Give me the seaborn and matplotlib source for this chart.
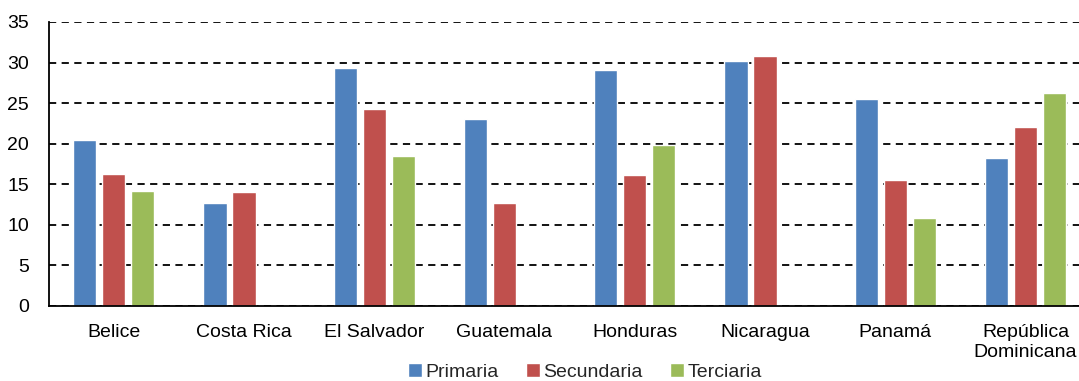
import matplotlib
matplotlib.use("Agg")
import matplotlib.pyplot as plt
import seaborn as sns
import pandas as pd
import numpy as np

categories = ["Belice", "Costa Rica", "El Salvador", "Guatemala", "Honduras",
              "Nicaragua", "Panamá", "República\nDominicana"]
series = ["Primaria", "Secundaria", "Terciaria"]
primaria = [20.4, 12.7, 29.3, 23.0, 29.1, 30.2, 25.5, 18.3]
secundaria = [16.3, 14.0, 24.3, 12.7, 16.1, 30.85, 15.5, 22.1]
terciaria = [14.2, np.nan, 18.5, np.nan, 19.9, np.nan, 10.9, 26.2]
colors = ["#4F81BD", "#C0504D", "#9BBB59"]

rows = []
for s, vals in zip(series, [primaria, secundaria, terciaria]):
    for c, v in zip(categories, vals):
        rows.append({"pais": c, "nivel": s, "valor": v})
df = pd.DataFrame(rows)

sns.set_style("white")
plt.rcParams["font.family"] = ["Liberation Sans", "DejaVu Sans"]

fig = plt.figure(figsize=(10.79, 3.81), dpi=100)
ax = fig.add_axes([48.6 / 1079, 75 / 381, 1042 / 1079, 284 / 381])

sns.barplot(data=df, x="pais", y="valor", hue="nivel", order=categories,
            hue_order=series, palette=colors, width=0.667, gap=0.2,
            saturation=1, ax=ax, legend=True)

ax.set_ylim(0, 35)
ax.set_xlim(-0.5, 7.5)
ax.set_yticks(range(0, 36, 5))
ax.set_xlabel("")
ax.set_ylabel("")
ax.yaxis.grid(True, linestyle=(0, (4, 3)), color="black", linewidth=1.3)
ax.set_axisbelow(True)
for side in ["top", "right"]:
    ax.spines[side].set_visible(False)
for side in ["left", "bottom"]:
    ax.spines[side].set_color("black")
    ax.spines[side].set_linewidth(1.3)
ax.tick_params(axis="both", length=0, labelsize=14, colors="black")
ax.tick_params(axis="x", pad=13)
ax.tick_params(axis="y", pad=14)

leg = ax.legend(loc="lower center", bbox_to_anchor=(0.542, -0.02), bbox_transform=fig.transFigure,
                ncol=3, frameon=False, fontsize=14, handlelength=0.75, handleheight=0.75,
                handletextpad=0.15, columnspacing=1.4, borderaxespad=0.0)

fig.savefig("out.png", dpi=100)
